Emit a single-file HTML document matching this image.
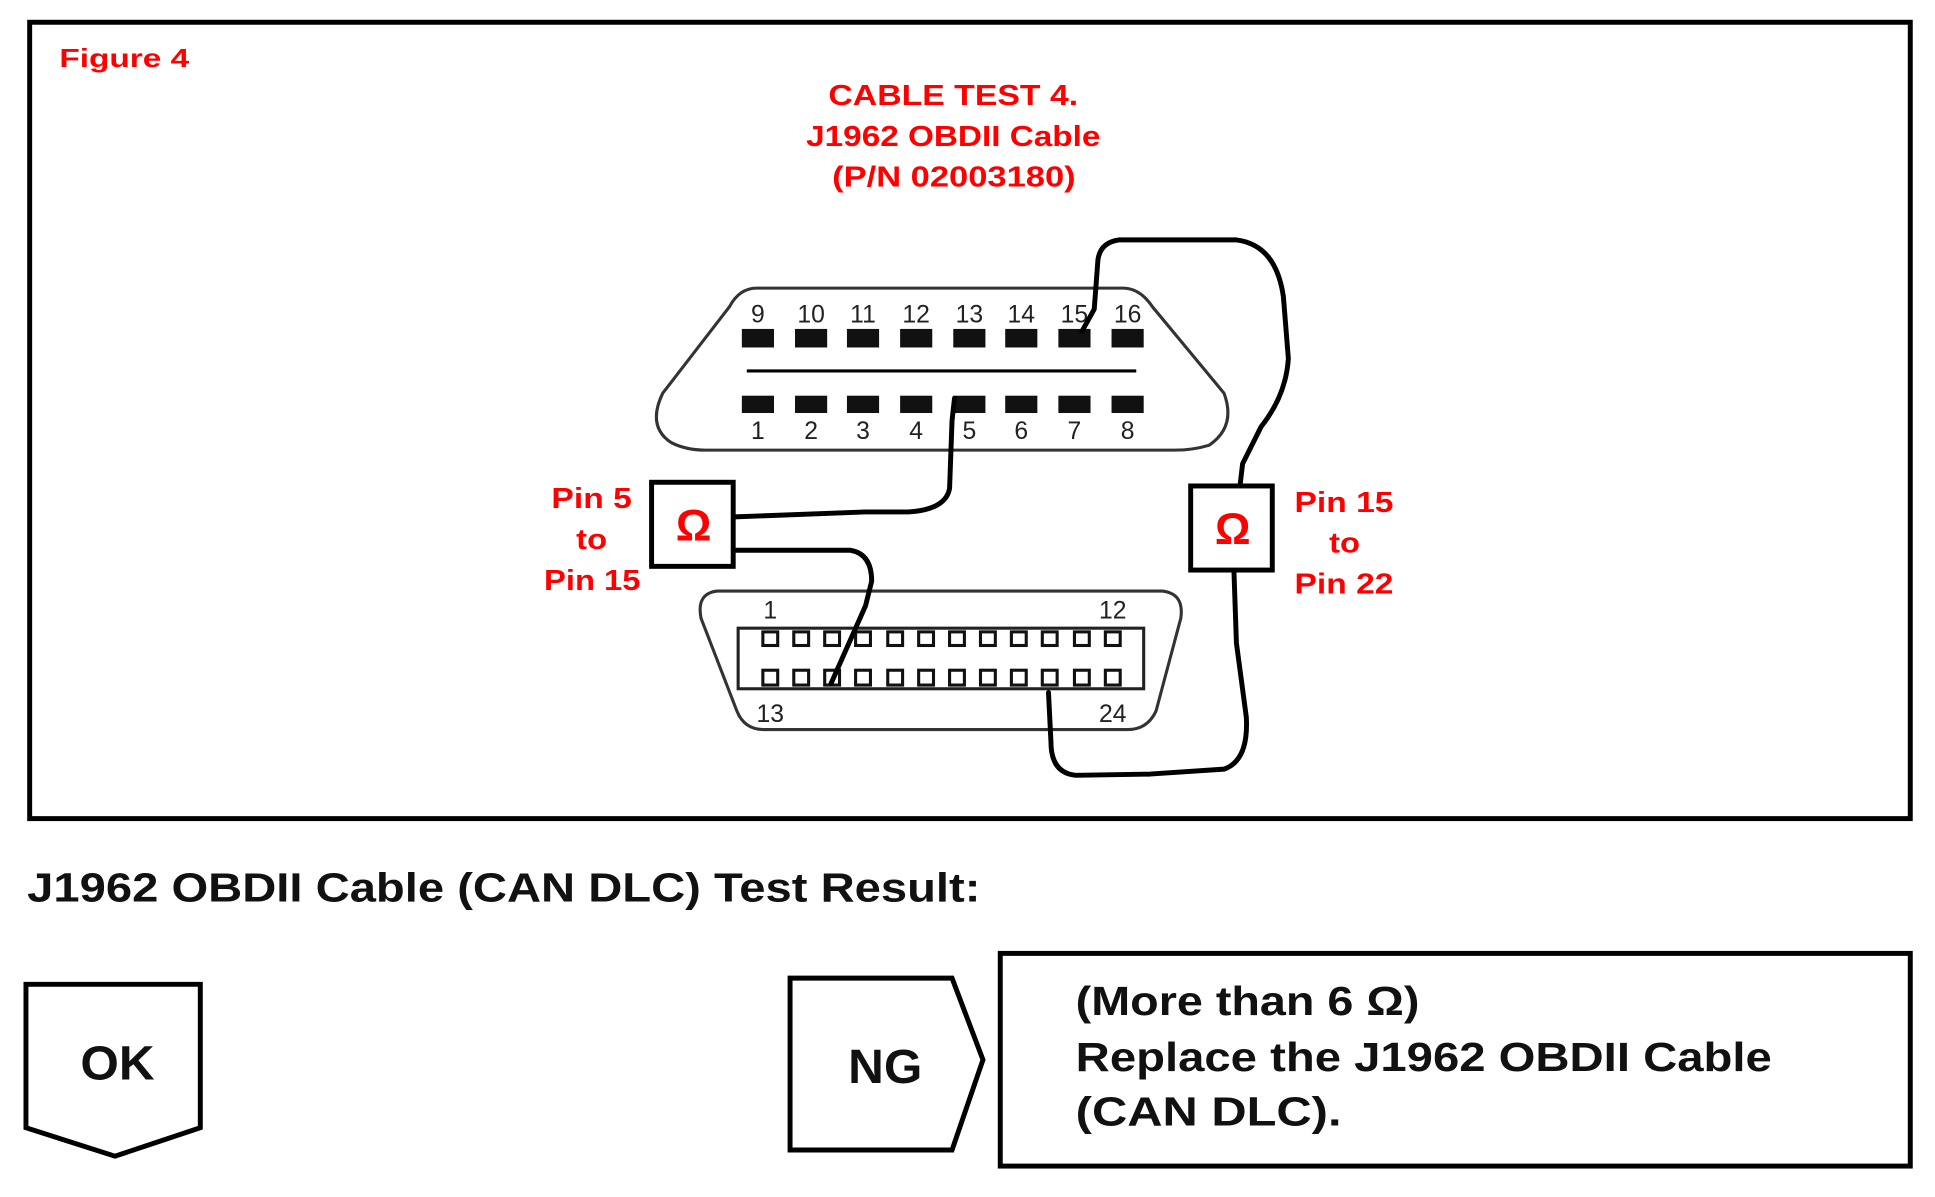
<!DOCTYPE html>
<html><head><meta charset="utf-8"><style>html,body{margin:0;padding:0;background:#fff}svg{display:block}</style></head>
<body>
<svg width="1935" height="1197" viewBox="0 0 1565 968" preserveAspectRatio="none" xmlns="http://www.w3.org/2000/svg" font-family="Liberation Sans, Arial, sans-serif">
<rect x="0" y="0" width="1565" height="968" fill="#fff"/>
<rect x="24" y="18" width="1521" height="644" fill="none" stroke="#000" stroke-width="4"/>
<g fill="#f00" font-weight="bold">
<text x="48" y="54" font-size="21" textLength="105" lengthAdjust="spacingAndGlyphs">Figure 4</text>
<g font-size="23">
<text x="670" y="85" textLength="202" lengthAdjust="spacingAndGlyphs">CABLE TEST 4.</text>
<text x="652" y="118" textLength="238" lengthAdjust="spacingAndGlyphs">J1962 OBDII Cable</text>
<text x="673" y="151" textLength="197" lengthAdjust="spacingAndGlyphs">(P/N  02003180)</text>
<text x="446" y="411" textLength="65" lengthAdjust="spacingAndGlyphs">Pin 5</text>
<text x="466" y="444" textLength="25" lengthAdjust="spacingAndGlyphs">to</text>
<text x="440" y="477" textLength="78" lengthAdjust="spacingAndGlyphs">Pin 15</text>
<text x="1047" y="414" textLength="80" lengthAdjust="spacingAndGlyphs">Pin 15</text>
<text x="1075" y="447" textLength="25" lengthAdjust="spacingAndGlyphs">to</text>
<text x="1047" y="480" textLength="80" lengthAdjust="spacingAndGlyphs">Pin 22</text>
</g></g>
<!-- top connector -->
<path d="M612,233 L908,233 Q922,233 932,248 L990,318 Q1000,345 978,360 Q965,364 950,364 L570,364 Q555,364 543,358 Q523,345 536,318 L590,248 Q598,233 612,233 Z" fill="none" stroke="#333" stroke-width="2.5"/>
<line x1="604" y1="300" x2="919" y2="300" stroke="#000" stroke-width="2.5"/>
<g fill="#111">
<rect x="600" y="266" width="26" height="15"/><rect x="643" y="266" width="26" height="15"/><rect x="685" y="266" width="26" height="15"/><rect x="728" y="266" width="26" height="15"/><rect x="771" y="266" width="26" height="15"/><rect x="813" y="266" width="26" height="15"/><rect x="856" y="266" width="26" height="15"/><rect x="899" y="266" width="26" height="15"/>
<rect x="600" y="320" width="26" height="14"/><rect x="643" y="320" width="26" height="14"/><rect x="685" y="320" width="26" height="14"/><rect x="728" y="320" width="26" height="14"/><rect x="771" y="320" width="26" height="14"/><rect x="813" y="320" width="26" height="14"/><rect x="856" y="320" width="26" height="14"/><rect x="899" y="320" width="26" height="14"/>
</g>
<g font-size="20" fill="#222" text-anchor="middle">
<text x="613" y="261">9</text><text x="656" y="261">10</text><text x="698" y="261">11</text><text x="741" y="261">12</text><text x="784" y="261">13</text><text x="826" y="261">14</text><text x="869" y="261">15</text><text x="912" y="261">16</text>
<text x="613" y="355">1</text><text x="656" y="355">2</text><text x="698" y="355">3</text><text x="741" y="355">4</text><text x="784" y="355">5</text><text x="826" y="355">6</text><text x="869" y="355">7</text><text x="912" y="355">8</text>
</g>
<!-- bottom connector -->
<path d="M590,478 L940,478 Q958,480 955,500 L935,575 Q928,590 912,590 L618,590 Q602,590 596,575 L567,500 Q563,480 580,478 Z" fill="none" stroke="#333" stroke-width="2.5"/>
<rect x="597" y="508" width="328" height="49" fill="none" stroke="#222" stroke-width="2.5"/>
<g fill="#fff" stroke="#111" stroke-width="2.5">
<rect x="617" y="511" width="12" height="11"/><rect x="642" y="511" width="12" height="11"/><rect x="667" y="511" width="12" height="11"/><rect x="692" y="511" width="12" height="11"/><rect x="718" y="511" width="12" height="11"/><rect x="743" y="511" width="12" height="11"/><rect x="768" y="511" width="12" height="11"/><rect x="793" y="511" width="12" height="11"/><rect x="818" y="511" width="12" height="11"/><rect x="843" y="511" width="12" height="11"/><rect x="869" y="511" width="12" height="11"/><rect x="894" y="511" width="12" height="11"/>
<rect x="617" y="542" width="12" height="12"/><rect x="642" y="542" width="12" height="12"/><rect x="667" y="542" width="12" height="12"/><rect x="692" y="542" width="12" height="12"/><rect x="718" y="542" width="12" height="12"/><rect x="743" y="542" width="12" height="12"/><rect x="768" y="542" width="12" height="12"/><rect x="793" y="542" width="12" height="12"/><rect x="818" y="542" width="12" height="12"/><rect x="843" y="542" width="12" height="12"/><rect x="869" y="542" width="12" height="12"/><rect x="894" y="542" width="12" height="12"/>
</g>
<g font-size="20" fill="#222" text-anchor="middle">
<text x="623" y="500">1</text><text x="900" y="500">12</text><text x="623" y="584">13</text><text x="900" y="584">24</text>
</g>
<!-- wires -->
<g fill="none" stroke="#000" stroke-width="4" stroke-linejoin="round" stroke-linecap="round">
<path d="M772,322 L770,340 L768,395 Q765,412 735,414 L700,414 L594,418"/>
<path d="M594,445 L688,445 Q705,448 705,470 L700,490 L672,553"/>
<path d="M875,268 L885,250 L888,210 Q890,196 905,194 L1000,194 Q1032,198 1038,240 L1042,290 Q1040,320 1020,345 L1005,375 L1003,392"/>
<path d="M998,462 L1000,520 L1008,580 Q1010,615 990,622 L930,626 L870,627 Q850,625 850,600 L848,560"/>
</g>
<!-- ohm boxes -->
<rect x="527" y="390" width="66" height="68" fill="#fff" stroke="#000" stroke-width="4"/>
<text x="561" y="437" font-size="36" font-weight="bold" fill="#f00" text-anchor="middle">Ω</text>
<rect x="963" y="393" width="66" height="68" fill="#fff" stroke="#000" stroke-width="4"/>
<text x="997" y="440" font-size="36" font-weight="bold" fill="#f00" text-anchor="middle">Ω</text>
<!-- result section -->
<text x="22" y="729" font-size="33" font-weight="bold" fill="#111" textLength="771" lengthAdjust="spacingAndGlyphs">J1962 OBDII Cable (CAN DLC) Test Result:</text>
<path d="M21,796 L162,796 L162,912 L93,935 L21,912 Z" fill="#fff" stroke="#000" stroke-width="4"/>
<text x="65" y="873" font-size="39" font-weight="bold" fill="#111" textLength="60" lengthAdjust="spacingAndGlyphs">OK</text>
<path d="M639,791 L770,791 L795,857 L770,930 L639,930 Z" fill="#fff" stroke="#000" stroke-width="4"/>
<text x="686" y="876" font-size="39" font-weight="bold" fill="#111" textLength="60" lengthAdjust="spacingAndGlyphs">NG</text>
<rect x="809" y="771" width="736" height="172" fill="#fff" stroke="#000" stroke-width="4"/>
<g font-size="33" font-weight="bold" fill="#111">
<text x="870" y="821" textLength="278" lengthAdjust="spacingAndGlyphs">(More than 6 Ω)</text>
<text x="870" y="866" textLength="563" lengthAdjust="spacingAndGlyphs">Replace the J1962 OBDII Cable</text>
<text x="870" y="910" textLength="215" lengthAdjust="spacingAndGlyphs">(CAN  DLC).</text>
</g>
</svg>
</body></html>
